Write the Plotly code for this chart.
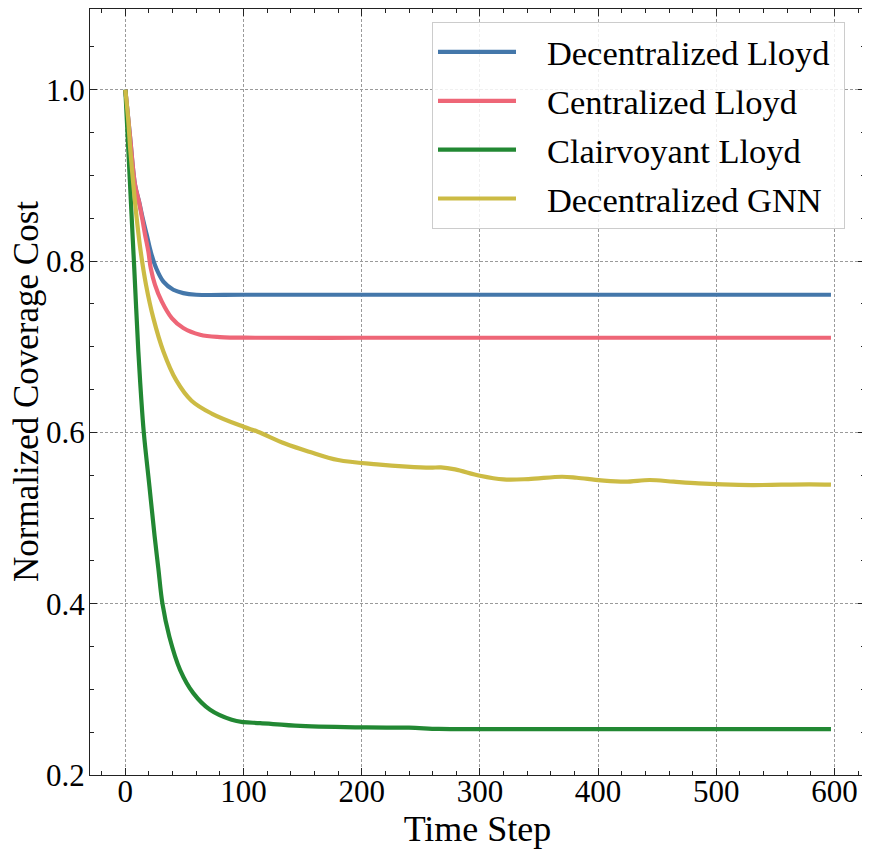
import plotly.graph_objects as go

# values
names = ["Decentralized Lloyd", "Centralized Lloyd", "Clairvoyant Lloyd", "Decentralized GNN"]
colors = ["#4477AA", "#EE6677", "#228833", "#CCBB44"]

dec_lloyd_x = [0, 4, 8.2, 11.6, 14.7, 18.1, 21.5, 26, 32.2, 40.6, 49, 60, 100, 200, 300, 400, 500, 597]
dec_lloyd_y = [1.0, 0.945, 0.889, 0.8696, 0.85, 0.8307, 0.811, 0.792, 0.776, 0.7665, 0.7626, 0.7607,
               0.7607, 0.7607, 0.7607, 0.7607, 0.7607, 0.7607]

cen_lloyd_x = [0, 4, 8.2, 11.6, 14.5, 16.7, 19.5, 21.5, 25.1, 30.8, 39.3, 49, 63.2, 80, 110, 200, 300, 400, 500, 597]
cen_lloyd_y = [1.0, 0.945, 0.889, 0.869, 0.848, 0.8307, 0.811, 0.7918, 0.7723, 0.7529, 0.7334, 0.7218,
               0.714, 0.7113, 0.7105, 0.7105, 0.7105, 0.7105, 0.7105, 0.7105]

clair_x = [0, 2.6, 5.4, 7.6, 11, 13.2, 15.6, 20.4, 24.8, 27.9, 31.4, 37.2, 46.3, 57.5, 71.7, 90, 100, 114,
           148, 204, 240, 265, 300, 400, 500, 597]
clair_y = [1.0, 0.928, 0.85, 0.79, 0.6945, 0.645, 0.6, 0.5368, 0.4785, 0.4415, 0.4, 0.3617, 0.3228, 0.2956,
           0.2761, 0.2644, 0.2617, 0.2606, 0.2574, 0.2555, 0.2552, 0.2538, 0.2535, 0.2535, 0.2535, 0.2535]

gnn_x = [0, 2.3, 4.3, 6.8, 9.6, 13.0, 17.5, 23.7, 32.2, 43, 56, 73, 100, 112, 135, 155.6, 180, 213,
         238, 258, 267, 279, 300, 320, 341, 369.5, 382, 402.5, 423, 443.6, 464, 485, 505, 530, 555, 579, 597]
gnn_y = [1.0, 0.967, 0.928, 0.889, 0.85, 0.811, 0.7723, 0.7334, 0.6945, 0.661, 0.637, 0.622, 0.6066,
         0.6008, 0.587, 0.5774, 0.5677, 0.5626, 0.56, 0.5588, 0.5591, 0.5568, 0.5494, 0.5451, 0.5455,
         0.5482, 0.547, 0.544, 0.5424, 0.5444, 0.5424, 0.5405, 0.5393, 0.5385, 0.5389, 0.5393, 0.5389]

xs = [dec_lloyd_x, cen_lloyd_x, clair_x, gnn_x]
ys = [dec_lloyd_y, cen_lloyd_y, clair_y, gnn_y]

FONT = "Liberation Serif"
PAD = "\u00a0\u00a0\u00a0"  # gap between legend line and its label

fig = go.Figure()
for i, (name, color, x, y) in enumerate(zip(names, colors, xs, ys)):
    fig.add_trace(go.Scatter(x=x, y=y, mode="lines", name=PAD + name + "\u00a0", legendgroup=f"g{i}",
                             line=dict(color=color, width=4.2, shape="spline", smoothing=1.0)))

axis_style = dict(
    showline=True, linecolor="#222", linewidth=1.2, mirror="allticks",
    ticks="inside", ticklen=7, tickwidth=1, tickcolor="#222",
    showgrid=True, gridcolor="#9a9a9a", gridwidth=0.7, griddash="3px,2px",
    zeroline=False, tickfont=dict(size=31, color="black"), automargin=False,
)

# page body adds an 8px offset, so the figure is 8px smaller and the top is trimmed a little
fig.update_xaxes(axis_style, range=[-29.9, 625.8], tickmode="linear", tick0=0, dtick=100,
                 ticklabelstandoff=-11,
                 minor=dict(ticks="inside", ticklen=3.5, tickcolor="#222", dtick=20, tick0=0, showgrid=False),
                 title=dict(text="Time Step", font=dict(size=36, color="black"), standoff=0))
fig.update_yaxes(axis_style, range=[0.2, 1.0943], tickmode="linear", tick0=0.2, dtick=0.2, tickformat=".1f",
                 ticklabelstandoff=-2,
                 minor=dict(ticks="inside", ticklen=3.5, tickcolor="#222", dtick=0.05, tick0=0.2, showgrid=False))

fig.add_annotation(text="Normalized Coverage Cost", xref="paper", yref="paper", x=0, y=0.5,
                   xanchor="center", yanchor="middle", xshift=-64, textangle=-90, showarrow=False,
                   font=dict(size=35, color="black"))

fig.update_layout(
    width=862, height=846,
    margin=dict(l=82, r=5, t=1, b=79),
    paper_bgcolor="white", plot_bgcolor="white",
    font=dict(family=FONT, color="black"),
    legend=dict(x=0.4413, y=0.9830, xanchor="left", yanchor="top", traceorder="grouped",
                tracegroupgap=1, itemwidth=78,
                font=dict(size=34.5), bgcolor="rgba(255,255,255,0.85)",
                bordercolor="#cccccc", borderwidth=1),
)

fig.write_html("out.html")
